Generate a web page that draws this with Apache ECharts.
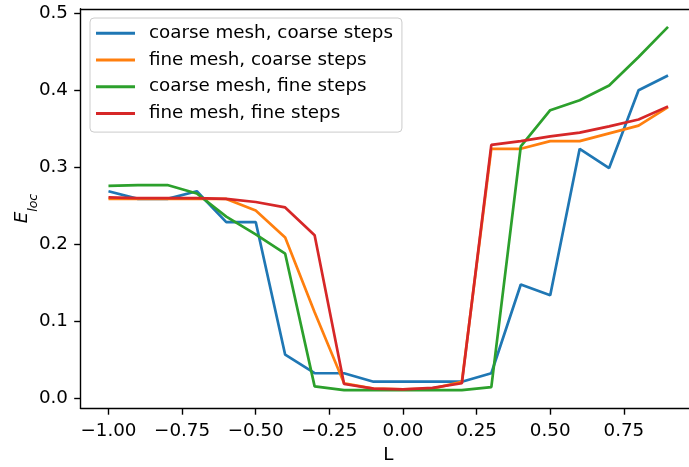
<!DOCTYPE html>
<html>
<head>
<meta charset="utf-8">
<script src="https://cdn.jsdelivr.net/npm/echarts@6/dist/echarts.min.js"></script>
<style>html,body{margin:0;padding:0;background:#fff;overflow:hidden}#c{width:689px;height:467px}</style>
</head>
<body>
<div id="c"></div>
<script>
const xValues = [-1.0,-0.9,-0.8,-0.7,-0.6,-0.5,-0.4,-0.3,-0.2,-0.1,0.0,0.1,0.2,0.3,0.4,0.5,0.6,0.7,0.8,0.9];
const coarseMeshCoarseSteps = [0.269,0.259,0.259,0.269,0.229,0.229,0.057,0.033,0.033,0.022,0.022,0.022,0.022,0.033,0.148,0.134,0.324,0.299,0.400,0.419];
const fineMeshCoarseSteps   = [0.259,0.259,0.259,0.259,0.259,0.244,0.209,0.112,0.020,0.013,0.012,0.013,0.022,0.324,0.324,0.334,0.334,0.344,0.354,0.378];
const coarseMeshFineSteps   = [0.276,0.277,0.277,0.266,0.236,0.213,0.188,0.016,0.011,0.011,0.011,0.011,0.011,0.015,0.327,0.374,0.387,0.406,0.443,0.482];
const fineMeshFineSteps     = [0.261,0.260,0.260,0.260,0.259,0.255,0.248,0.212,0.019,0.013,0.012,0.014,0.020,0.329,0.334,0.340,0.345,0.353,0.362,0.379];
const seriesNames = ['coarse mesh, coarse steps','fine mesh, coarse steps','coarse mesh, fine steps','fine mesh, fine steps'];
const xTicks = [-1.0,-0.75,-0.5,-0.25,0.0,0.25,0.5,0.75];
const yTicks = [0.0,0.1,0.2,0.3,0.4,0.5];
const colors = ['#1f77b4','#ff7f0e','#2ca02c','#d62728'];

const allSeries = [coarseMeshCoarseSteps, fineMeshCoarseSteps, coarseMeshFineSteps, fineMeshFineSteps];
const FONT = 'DejaVu Sans';
const FS = 18.3;
const X_MIN = -1.095, X_MAX = 0.995;
const spine = {show:true, onZero:false, lineStyle:{color:'#000', width:1.4}};
const chart = echarts.init(document.getElementById('c'), null, {renderer:'canvas'});
chart.setOption({
  animation:false,
  backgroundColor:'#fff',
  textStyle:{fontFamily:FONT},
  grid:{left:80.5, top:8.8, width:615.5, height:399.6, show:false, containLabel:false, outerBoundsMode:'none'},
  legend:{
    orient:'vertical', left:90, top:18,
    data:seriesNames,
    icon:'rect', itemWidth:39, itemHeight:3, itemGap:6.7,
    padding:[5.3,9,8.7,6],
    backgroundColor:'rgba(255,255,255,0.8)', borderColor:'#cccccc', borderWidth:1, borderRadius:4,
    textStyle:{fontFamily:FONT, fontSize:FS, color:'#000', lineHeight:20, padding:[0,0,0,9]}
  },
  xAxis:[{
    type:'value', min:X_MIN, max:X_MAX, position:'bottom',
    name:'L', nameLocation:'middle', nameGap:37.5, nameMoveOverlap:false,
    nameTextStyle:{fontFamily:FONT, fontSize:FS, color:'#000'},
    axisLine:spine,
    splitLine:{show:false},
    axisTick:{show:true, length:6.3, lineStyle:{color:'#000', width:1.4}, customValues:xTicks},
    axisLabel:{color:'#000', fontSize:FS, fontFamily:FONT, margin:13.5, customValues:xTicks,
      formatter:v=>v.toFixed(2).replace('-','\u2212')}
  },{
    type:'value', min:X_MIN, max:X_MAX, position:'top',
    axisLine:spine, axisTick:{show:false}, axisLabel:{show:false}, splitLine:{show:false}
  }],
  yAxis:{
    type:'value', min:-0.0126, max:0.5055,
    name:'{e|E}{s|loc}', nameLocation:'middle', nameGap:49, nameRotate:90, nameMoveOverlap:false,
    nameTextStyle:{fontFamily:FONT, fontSize:FS, color:'#000',
      rich:{e:{fontFamily:FONT, fontStyle:'italic', fontSize:FS, lineHeight:18, verticalAlign:'top', color:'#000'},
            s:{fontFamily:FONT, fontStyle:'italic', fontSize:12.5, lineHeight:12.5, verticalAlign:'top', color:'#000', padding:[13.7,0,0,0]}}},
    axisLine:spine,
    splitLine:{show:false},
    axisTick:{show:true, length:6.3, lineStyle:{color:'#000', width:1.4}, customValues:yTicks},
    axisLabel:{color:'#000', fontSize:FS, fontFamily:FONT, margin:12.5, customValues:yTicks,
      formatter:v=>v.toFixed(1)}
  },
  series: allSeries.map((arr,i)=>({
    name:seriesNames[i], type:'line', showSymbol:false, symbol:'none',
    data:xValues.map((x,j)=>[x,arr[j]]),
    lineStyle:{color:colors[i], width:2.7}, itemStyle:{color:colors[i]},
    z:2+i
  }))
});
</script>
</body>
</html>
